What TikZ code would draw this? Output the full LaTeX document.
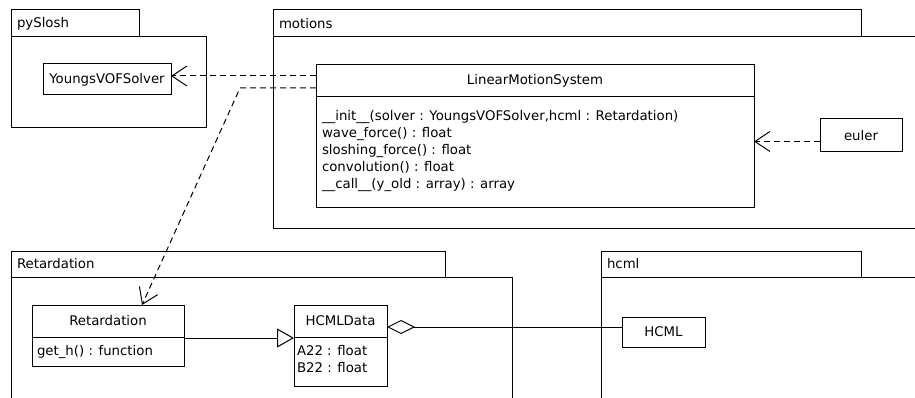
\documentclass[tikz,border=0pt]{standalone}
\usepackage{fontspec}
\setmainfont{DejaVu Sans}
\usetikzlibrary{arrows.meta, positioning}

\begin{document}
\begin{tikzpicture}[x=1pt, y=-1pt, line width=1pt,
    every node/.style={font=\fontsize{13.3}{17}\selectfont, inner sep=0pt, outer sep=0pt},
    pkg/.style={draw, anchor=north west},
    box/.style={draw, anchor=north west},
    pkgname/.style={anchor=west, xshift=6pt},
    dep/.style={dash pattern=on 6pt off 4pt, -{Straight Barb[length=15pt, width=20pt]}},
    gen/.style={-{Triangle[open, length=17pt, width=19pt]}},
    agg/.style={{Diamond[open, length=28pt, width=14pt]}-}]
  \useasboundingbox (0,0) rectangle (915,398);
  \clip (0,0) rectangle (915,398);

  % packages
  \node[pkg, minimum width=128pt, minimum height=27pt] (pysloshtab) at (11,10) {};
  \node[pkgname] (pysloshname) at (pysloshtab.west) {pySlosh};
  \node[pkg, minimum width=195pt, minimum height=91pt] (pysloshbody) at (11,37) {};

  \node[pkg, minimum width=588pt, minimum height=27pt] (motionstab) at (273,10) {};
  \node[pkgname] (motionsname) at (motionstab.west) {motions};
  \node[pkg, minimum width=650pt, minimum height=191pt] (motionsbody) at (273,37) {};

  \node[pkg, minimum width=434pt, minimum height=26pt] (retardtab) at (11,251) {};
  \node[pkgname] (retardname) at (retardtab.west) {Retardation};
  \node[pkg, minimum width=501pt, minimum height=140pt] (retardbody) at (11,277) {};

  \node[pkg, minimum width=260pt, minimum height=26pt] (hcmltab) at (601,251) {};
  \node[pkgname] (hcmlname) at (hcmltab.west) {hcml};
  \node[pkg, minimum width=330pt, minimum height=140pt] (hcmlbody) at (601,277) {};

  % classes
  \node[box, minimum width=128pt, minimum height=31pt] (yvof) at (43,64) {YoungsVOFSolver};

  \node[box, minimum width=438pt, minimum height=142pt] (lms) at (316,65) {};
  \node (lmsname) at (535,81) {LinearMotionSystem};
  \draw ([yshift=-32pt]lms.north west) -- ([yshift=-32pt]lms.north east);
  \node[anchor=north west, align=left] (lmsops) at (322,110) {\_\_init\_\_(solver : YoungsVOFSolver,hcml : Retardation)\\wave\_force() : float\\sloshing\_force() : float\\convolution() : float\\\_\_call\_\_(y\_old : array) : array};

  \node[box, minimum width=82pt, minimum height=33pt] (euler) at (820,119) {euler};

  \node[box, minimum width=152pt, minimum height=61pt] (retcls) at (32,305) {};
  \node (retclsname) at (108,321) {Retardation};
  \draw ([yshift=-32pt]retcls.north west) -- ([yshift=-32pt]retcls.north east);
  \node[anchor=north west] (retclsops) at (37,345) {get\_h() : function};

  \node[box, minimum width=93pt, minimum height=81pt] (hcmldata) at (294,305) {};
  \node (hcmldataname) at (340.5,321) {HCMLData};
  \draw ([yshift=-32pt]hcmldata.north west) -- ([yshift=-32pt]hcmldata.north east);
  \node[anchor=north west, align=left] (hcmldataattr) at (297,345) {A22 : float\\B22 : float};

  \node[box, minimum width=83pt, minimum height=30pt] (hcml) at (622,317) {HCML};

  % relations
  \coordinate (bend) at (240,88);
  \draw[dep] ([yshift=-11pt]lms.north west) -- ([yshift=-11pt]lms.north west -| yvof.east);
  \draw[dep] ([yshift=-23pt]lms.north west) -- (bend) -- ([xshift=110pt]retcls.north west);
  \draw[dep] ([yshift=-6pt]euler.west) -- ([yshift=-6pt]euler.west -| lms.east);
  \draw[gen] ([yshift=-33pt]retcls.north east) -- ([yshift=-33pt]retcls.north east -| hcmldata.west);
  \draw[agg] ([yshift=-22pt]hcmldata.north east) -- ([yshift=-22pt]hcmldata.north east -| hcml.west);
\end{tikzpicture}
\end{document}
